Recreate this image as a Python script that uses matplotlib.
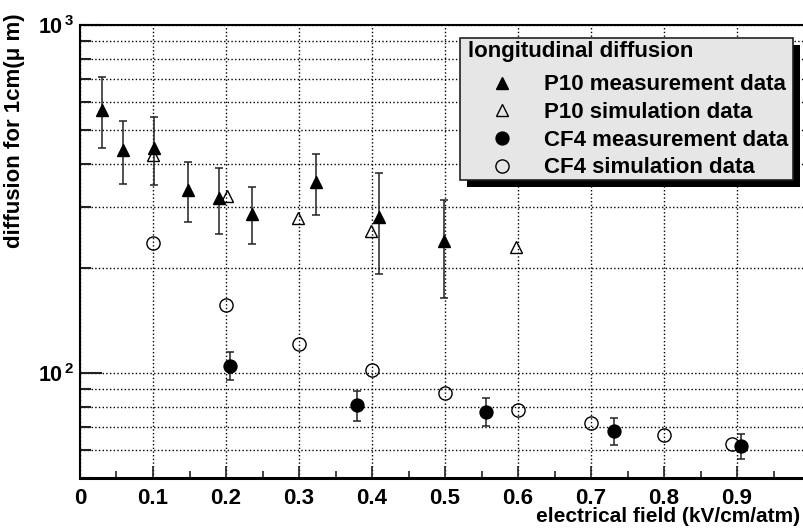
import numpy as np
import matplotlib
matplotlib.use('Agg')
from matplotlib import pyplot as plt
from matplotlib.patches import Rectangle
from matplotlib.ticker import LogLocator, MultipleLocator, NullFormatter, FixedLocator

plt.rcParams['font.family'] = ['Liberation Sans', 'DejaVu Sans']
plt.rcParams['font.weight'] = 'bold'
plt.rcParams['mathtext.fontset'] = 'custom'
plt.rcParams['mathtext.bf'] = 'Liberation Sans:bold'
plt.rcParams['mathtext.rm'] = 'Liberation Sans:bold'
plt.rcParams['mathtext.default'] = 'bf'

# P10 measurement (filled triangles)
p10_meas_x = [0.030, 0.059, 0.101, 0.148, 0.190, 0.235, 0.323, 0.410, 0.498]
p10_meas_y = [570, 437, 443, 336, 318, 286, 355, 281, 240]
p10_meas_hi = [709, 531, 545, 404, 389, 342, 426, 377, 315]
p10_meas_lo = [443, 349, 347, 272, 251, 235, 284, 193, 164]

# P10 simulation (open triangles)
p10_sim_x = [0.1, 0.201, 0.299, 0.399, 0.597]
p10_sim_y = [423, 323, 279, 256, 230]

# CF4 measurement (filled circles)
cf4_meas_x = [0.2055, 0.380, 0.556, 0.732, 0.906]
cf4_meas_y = [105, 80.9, 77.4, 68.1, 61.7]
cf4_meas_hi = [115.4, 88.9, 84.6, 74.4, 66.8]
cf4_meas_lo = [95.5, 72.7, 70.6, 62.1, 56.6]

# CF4 simulation (open circles)
cf4_sim_x = [0.1, 0.2, 0.3, 0.4, 0.5, 0.6, 0.7, 0.8, 0.893]
cf4_sim_y = [236, 157, 121, 102, 88.0, 78.6, 71.9, 66.6, 62.5]

x_ticks = [0, 0.1, 0.2, 0.3, 0.4, 0.5, 0.6, 0.7, 0.8, 0.9]
legend_labels = ['P10 measurement data', 'P10 simulation data',
                 'CF4 measurement data', 'CF4 simulation data']

W, H = 804, 531
fig = plt.figure(figsize=(W / 100, H / 100), dpi=100)
# right edge of the frame lies just outside the picture
ax = fig.add_axes([80 / W, (H - 478) / H, 730 / W, 453 / H])

def yerr(y, lo, hi):
    y = np.array(y)
    return [y - np.array(lo), np.array(hi) - y]

eb_kw = dict(ecolor='#222222', elinewidth=1.1, capsize=2.6, capthick=1.1, linestyle='none')
h1 = ax.errorbar(p10_meas_x, p10_meas_y, yerr=yerr(p10_meas_y, p10_meas_lo, p10_meas_hi),
                 marker='^', ms=9.3, mfc='black', mec='black', zorder=4, **eb_kw)
h2, = ax.plot(p10_sim_x, p10_sim_y, linestyle='none', marker='^', ms=9.3, mfc='none',
              mec='black', mew=1.0, zorder=3)
h3 = ax.errorbar(cf4_meas_x, cf4_meas_y, yerr=yerr(cf4_meas_y, cf4_meas_lo, cf4_meas_hi),
                 marker='o', ms=9.3, mfc='black', mec='black', zorder=4, **eb_kw)
h4, = ax.plot(cf4_sim_x, cf4_sim_y, linestyle='none', marker='o', ms=9.5, mfc='none',
              mec='black', mew=1.0, zorder=3)

ax.set_yscale('log')
ax.set_xlim(0, 1.0)
ax.set_ylim(50, 1000)

ax.xaxis.set_major_locator(FixedLocator(x_ticks))
ax.xaxis.set_minor_locator(MultipleLocator(0.05))
ax.xaxis.set_major_formatter(plt.FuncFormatter(lambda v, p: '0' if abs(v) < 1e-9 else '%g' % v))
ax.yaxis.set_major_locator(FixedLocator([100, 1000]))
ax.yaxis.set_major_formatter(plt.FuncFormatter(lambda v, p: r'$\mathbf{10^{\,%d}}$' % round(np.log10(v))))
ax.yaxis.set_minor_locator(LogLocator(base=10, subs=np.arange(2, 10)))
ax.yaxis.set_minor_formatter(NullFormatter())

ax.tick_params(axis='both', which='both', direction='in', color='#222222')
ax.tick_params(axis='x', which='major', length=9, width=1.2, pad=7, top=False, labelsize=16)
ax.tick_params(axis='x', which='minor', length=5, width=1.2, top=False)
ax.tick_params(axis='y', which='major', length=16, width=1.5, pad=4, right=False, labelsize=15.5)
ax.tick_params(axis='y', which='minor', length=8, width=1.5, right=False)
for lab in ax.get_xticklabels() + ax.get_yticklabels():
    lab.set_fontweight('bold')

ax.grid(True, which='major', axis='x', linestyle=':', color='black', linewidth=1.0)
ax.grid(True, which='both', axis='y', linestyle=':', color='black', linewidth=1.0)
ax.set_axisbelow(True)

ax.spines['left'].set_linewidth(1.5)
ax.spines['bottom'].set_linewidth(2.2)
ax.spines['top'].set_linewidth(1.5)
ax.spines['right'].set_visible(False)

fig.text(15 / W, 1 - 13 / H, 'diffusion for 1cm(μ m)', rotation=90, ha='center', va='top',
         fontsize=16, fontweight='bold')
fig.text(800 / W, 1 - 517 / H, 'electrical field (kV/cm/atm)', ha='right', va='center',
         fontsize=15, fontweight='bold')

# legend box and its shadow, in pixels (origin bottom-left)
box_x0, box_y0, box_w, box_h = 460, H - 180, 333, 142.3
fig.patches.append(Rectangle((box_x0 + 7, box_y0 - 7), box_w, box_h, transform=None,
                             facecolor='black', edgecolor='none', zorder=4))
fig.patches.append(Rectangle((box_x0, box_y0), box_w, box_h, transform=None,
                             facecolor='#e6e6e6', edgecolor='#222222', linewidth=1.2, zorder=4.5))

leg = fig.legend([h1[0], h2, h3[0], h4], legend_labels,
                 title='longitudinal diffusion', alignment='left',
                 loc='upper left', bbox_to_anchor=(468 / W, 1 - 41 / H),
                 prop={'size': 16, 'weight': 'bold'},
                 title_fontproperties={'size': 16, 'weight': 'bold'},
                 frameon=False, borderpad=0, labelspacing=0.3, handlelength=3.06,
                 handletextpad=0.36, borderaxespad=0, markerscale=1.0)
leg._legend_box.sep = 8.9
leg.set_zorder(6)

fig.savefig('out.png', dpi=100)
